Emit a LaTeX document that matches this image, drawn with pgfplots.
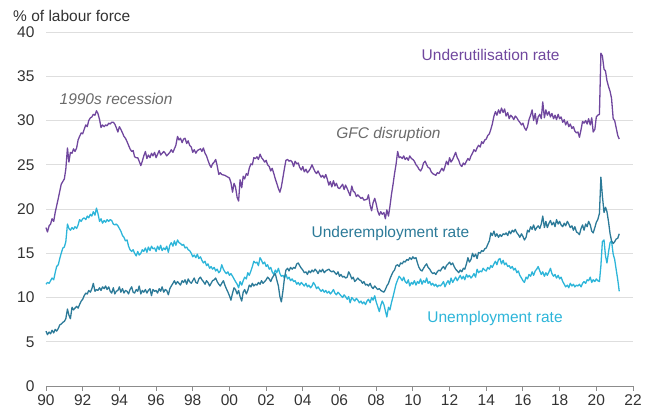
\documentclass[border=0pt]{standalone}
\usepackage{fontspec}
\setmainfont{Liberation Sans}
\usepackage{pgfplots}
\usepackage{pgfplotstable}
\pgfplotsset{compat=1.18}
\definecolor{cpurple}{HTML}{70479E}
\definecolor{cteal}{HTML}{2C7A98}
\definecolor{ccyan}{HTML}{2DB5D9}
\definecolor{ctext}{HTML}{333333}
\definecolor{cnote}{HTML}{6A6A6A}
\newcommand{\lbl}{\fontsize{15.5}{18}\selectfont}

\pgfplotstableread{
x y
1990.00 17.9
1990.08 17.4
1990.17 18.1
1990.25 18.3
1990.33 18.9
1990.42 18.6
1990.50 19.6
1990.67 21.2
1990.83 22.8
1991.00 23.4
1991.08 24.5
1991.17 26.9
1991.25 25.3
1991.33 26.4
1991.42 26.3
1991.50 26.8
1991.58 26.5
1991.67 26.9
1991.75 27.8
1991.83 28.2
1991.92 28.6
1992.00 28.5
1992.08 29.0
1992.17 29.5
1992.25 29.3
1992.33 30.0
1992.42 30.3
1992.50 30.4
1992.58 30.7
1992.67 30.6
1992.75 31.1
1992.83 30.8
1992.92 30.1
1993.00 29.2
1993.08 29.5
1993.17 29.3
1993.25 29.5
1993.33 29.4
1993.42 29.7
1993.50 29.6
1993.58 29.8
1993.67 29.8
1993.75 29.6
1993.83 29.2
1993.92 28.7
1994.00 29.3
1994.08 29.0
1994.17 28.6
1994.25 28.2
1994.33 28.0
1994.42 27.6
1994.50 27.2
1994.58 26.8
1994.67 26.5
1994.75 26.6
1994.83 25.9
1994.92 25.8
1995.00 25.8
1995.08 25.4
1995.17 24.9
1995.25 25.4
1995.33 26.0
1995.42 26.5
1995.50 25.7
1995.58 26.1
1995.67 25.8
1995.75 26.3
1995.83 26.0
1995.92 26.4
1996.00 25.8
1996.17 26.6
1996.25 26.1
1996.42 26.5
1996.50 26.3
1996.58 26.0
1996.75 26.4
1996.83 26.7
1996.92 26.4
1997.00 26.8
1997.08 27.2
1997.17 28.2
1997.25 27.8
1997.33 28.0
1997.42 27.5
1997.50 27.9
1997.58 28.0
1997.67 27.4
1997.75 27.7
1997.83 27.2
1997.92 27.0
1998.00 26.4
1998.08 26.7
1998.17 26.3
1998.25 26.6
1998.42 26.8
1998.50 26.5
1998.58 26.9
1998.67 26.3
1998.75 26.0
1998.83 25.5
1998.92 25.0
1999.00 24.7
1999.08 25.1
1999.17 25.3
1999.25 25.6
1999.33 24.9
1999.42 23.9
1999.50 24.1
1999.58 23.9
1999.75 23.8
1999.92 23.6
2000.00 23.5
2000.08 23.0
2000.17 21.9
2000.25 22.9
2000.33 22.5
2000.42 21.3
2000.50 20.9
2000.58 23.3
2000.67 22.4
2000.75 23.7
2000.83 23.4
2000.92 24.0
2001.00 23.8
2001.08 24.6
2001.17 25.1
2001.25 25.0
2001.33 25.8
2001.42 25.7
2001.50 25.9
2001.58 25.6
2001.67 26.2
2001.75 25.8
2001.83 25.6
2001.92 25.3
2002.00 25.5
2002.08 25.0
2002.17 24.8
2002.25 24.3
2002.33 24.6
2002.42 24.0
2002.50 23.4
2002.58 22.9
2002.67 22.3
2002.75 21.9
2002.83 22.5
2002.92 23.6
2003.00 24.6
2003.08 25.5
2003.17 25.6
2003.25 25.4
2003.33 25.5
2003.42 25.3
2003.50 24.8
2003.58 25.4
2003.67 25.1
2003.75 25.2
2003.83 24.7
2003.92 24.4
2004.00 24.8
2004.08 24.2
2004.17 24.5
2004.25 24.1
2004.33 24.3
2004.42 24.6
2004.50 25.0
2004.58 24.6
2004.67 24.2
2004.75 24.0
2004.83 24.3
2004.92 23.9
2005.00 23.6
2005.08 23.8
2005.17 23.5
2005.25 23.9
2005.33 23.4
2005.42 22.7
2005.50 23.1
2005.58 22.5
2005.67 23.2
2005.75 22.6
2005.83 22.9
2005.92 22.4
2006.00 22.3
2006.17 22.8
2006.25 22.2
2006.33 22.7
2006.42 22.3
2006.58 21.5
2006.67 22.6
2006.75 22.0
2006.83 21.9
2006.92 21.4
2007.00 21.6
2007.17 21.2
2007.25 21.3
2007.33 21.0
2007.50 21.1
2007.58 21.6
2007.67 20.4
2007.75 19.8
2007.83 20.7
2007.92 21.2
2008.00 20.6
2008.08 19.8
2008.17 19.3
2008.25 19.7
2008.33 19.4
2008.42 19.6
2008.50 18.9
2008.58 19.9
2008.67 19.2
2008.75 20.3
2008.83 21.6
2008.92 22.8
2009.00 24.0
2009.08 25.0
2009.17 26.5
2009.25 25.8
2009.33 25.9
2009.42 25.7
2009.50 26.0
2009.58 25.6
2009.67 25.8
2009.75 25.5
2009.83 26.0
2009.92 25.7
2010.00 25.6
2010.08 25.4
2010.17 25.0
2010.25 24.8
2010.33 24.5
2010.42 24.3
2010.50 24.6
2010.58 25.2
2010.67 25.4
2010.75 25.0
2010.83 24.7
2010.92 24.6
2011.00 24.2
2011.08 24.0
2011.17 23.9
2011.25 23.8
2011.33 24.1
2011.42 24.0
2011.50 24.3
2011.58 24.6
2011.67 24.3
2011.75 24.8
2011.83 25.4
2011.92 25.0
2012.00 25.8
2012.08 25.3
2012.17 25.6
2012.25 26.0
2012.33 26.4
2012.42 25.8
2012.50 25.5
2012.58 25.0
2012.67 24.8
2012.75 25.2
2012.83 25.0
2012.92 25.4
2013.00 25.7
2013.08 25.5
2013.17 26.0
2013.25 26.3
2013.33 26.7
2013.42 26.5
2013.50 26.9
2013.58 27.2
2013.67 27.0
2013.75 27.6
2013.83 27.4
2013.92 27.8
2014.00 27.9
2014.08 28.3
2014.17 28.5
2014.25 29.0
2014.33 29.6
2014.42 30.5
2014.50 31.0
2014.58 30.6
2014.67 31.2
2014.75 30.8
2014.83 31.4
2014.92 30.9
2015.00 31.3
2015.08 30.5
2015.17 30.9
2015.25 30.2
2015.33 30.6
2015.42 30.4
2015.50 30.1
2015.58 30.5
2015.67 30.3
2015.75 30.0
2015.83 29.8
2015.92 29.5
2016.00 29.7
2016.08 29.2
2016.17 28.9
2016.25 29.3
2016.33 30.1
2016.42 30.6
2016.50 31.2
2016.58 30.0
2016.67 30.8
2016.75 29.6
2016.83 30.4
2016.92 30.7
2017.00 30.2
2017.08 32.1
2017.17 30.3
2017.25 31.2
2017.33 30.6
2017.42 31.0
2017.50 30.4
2017.58 30.8
2017.67 30.2
2017.75 30.6
2017.83 30.1
2017.92 30.7
2018.00 30.2
2018.08 30.4
2018.17 29.8
2018.25 30.1
2018.33 29.5
2018.42 29.9
2018.50 29.3
2018.58 29.6
2018.67 29.1
2018.75 29.3
2018.83 28.8
2018.92 28.6
2019.00 28.7
2019.08 28.1
2019.17 29.0
2019.25 29.9
2019.33 29.7
2019.42 30.0
2019.50 29.6
2019.58 30.2
2019.67 29.5
2019.75 30.3
2019.83 28.7
2019.92 29.0
2020.00 30.4
2020.08 30.6
2020.17 30.7
2020.25 37.6
2020.33 37.3
2020.42 35.8
2020.50 35.6
2020.58 34.5
2020.67 33.8
2020.75 33.3
2020.83 32.5
2020.92 30.2
2021.00 30.0
2021.08 29.2
2021.17 28.3
2021.25 27.9
}\underutil

\pgfplotstableread{
x y
1990.00 6.2
1990.08 5.8
1990.17 6.1
1990.25 5.9
1990.33 6.3
1990.42 6.0
1990.50 6.4
1990.58 6.2
1990.67 6.5
1990.75 6.9
1990.83 7.0
1990.92 7.2
1991.00 7.3
1991.08 7.6
1991.17 8.7
1991.25 8.0
1991.33 7.6
1991.42 8.9
1991.50 8.6
1991.58 8.8
1991.67 9.0
1991.75 8.8
1991.83 9.2
1991.92 9.6
1992.00 9.8
1992.08 10.2
1992.17 10.5
1992.25 10.4
1992.33 10.8
1992.42 10.6
1992.50 11.0
1992.58 11.6
1992.67 10.7
1992.75 10.9
1992.83 10.8
1992.92 11.1
1993.00 10.8
1993.08 11.2
1993.17 11.0
1993.25 11.3
1993.33 10.9
1993.42 11.2
1993.50 10.7
1993.58 10.5
1993.67 11.1
1993.75 10.4
1993.83 10.7
1993.92 10.8
1994.00 11.2
1994.08 10.6
1994.17 11.0
1994.25 10.5
1994.33 10.8
1994.42 10.7
1994.50 10.4
1994.58 10.9
1994.67 11.2
1994.75 10.6
1994.83 10.5
1994.92 10.9
1995.00 10.7
1995.08 11.3
1995.17 10.4
1995.25 10.8
1995.33 10.6
1995.42 10.9
1995.50 10.5
1995.58 10.8
1995.67 11.0
1995.75 10.2
1995.83 10.9
1995.92 10.7
1996.00 10.8
1996.08 10.5
1996.17 11.0
1996.25 10.7
1996.33 11.2
1996.42 10.6
1996.50 10.9
1996.58 10.8
1996.67 10.3
1996.75 11.0
1996.83 11.3
1996.92 11.6
1997.00 11.9
1997.08 11.5
1997.17 11.8
1997.25 11.6
1997.33 11.4
1997.42 11.9
1997.50 11.7
1997.58 12.0
1997.67 11.5
1997.75 12.1
1997.83 11.8
1997.92 11.6
1998.00 11.9
1998.08 12.2
1998.17 11.7
1998.25 11.6
1998.33 12.1
1998.42 12.3
1998.50 12.0
1998.58 11.8
1998.67 11.5
1998.75 11.9
1998.83 11.7
1998.92 11.3
1999.00 11.6
1999.08 11.9
1999.17 12.0
1999.25 12.2
1999.33 11.8
1999.42 11.5
1999.50 11.3
1999.58 11.6
1999.67 11.9
1999.75 11.4
1999.83 11.0
1999.92 10.6
2000.00 10.2
2000.08 9.7
2000.17 10.5
2000.25 11.1
2000.33 10.9
2000.42 10.4
2000.50 10.8
2000.58 10.1
2000.67 9.6
2000.75 10.6
2000.83 10.9
2000.92 10.4
2001.00 10.8
2001.08 11.4
2001.17 11.2
2001.25 11.6
2001.33 11.3
2001.42 11.5
2001.50 11.4
2001.58 11.7
2001.67 11.5
2001.75 11.9
2001.83 11.6
2001.92 11.8
2002.00 12.0
2002.08 12.3
2002.17 12.1
2002.25 11.8
2002.33 12.2
2002.42 12.5
2002.50 12.7
2002.58 12.0
2002.67 11.3
2002.75 10.1
2002.83 9.5
2002.92 10.8
2003.00 12.2
2003.08 13.1
2003.17 13.3
2003.25 13.0
2003.33 13.4
2003.42 13.2
2003.50 13.4
2003.58 13.3
2003.67 13.8
2003.75 13.9
2003.83 13.6
2003.92 13.3
2004.00 13.1
2004.08 12.8
2004.17 12.9
2004.25 12.6
2004.33 13.0
2004.42 12.8
2004.50 13.1
2004.58 12.9
2004.67 13.2
2004.75 13.0
2004.83 12.7
2004.92 13.1
2005.00 12.9
2005.08 13.2
2005.17 12.8
2005.25 13.0
2005.33 13.1
2005.42 13.2
2005.50 13.0
2005.58 12.9
2005.67 13.0
2005.75 12.8
2005.83 12.6
2005.92 12.9
2006.00 12.4
2006.08 12.6
2006.17 12.3
2006.25 12.4
2006.33 12.2
2006.42 12.3
2006.50 12.9
2006.58 12.6
2006.67 12.1
2006.75 12.3
2006.83 11.8
2006.92 12.0
2007.00 12.2
2007.08 12.0
2007.17 11.9
2007.25 11.6
2007.33 11.8
2007.42 11.4
2007.50 11.5
2007.58 11.3
2007.67 11.6
2007.75 11.2
2007.83 11.0
2007.92 11.3
2008.00 11.1
2008.08 10.9
2008.17 11.0
2008.25 10.8
2008.33 10.7
2008.42 10.6
2008.50 10.9
2008.58 11.3
2008.67 11.6
2008.75 12.1
2008.83 12.5
2008.92 12.9
2009.00 13.1
2009.08 13.6
2009.17 13.7
2009.25 13.5
2009.33 13.9
2009.42 13.8
2009.50 14.1
2009.58 14.0
2009.67 14.3
2009.75 14.2
2009.83 14.5
2009.92 14.3
2010.00 14.6
2010.08 14.4
2010.17 14.5
2010.25 13.9
2010.33 13.4
2010.42 13.1
2010.50 13.0
2010.58 13.3
2010.67 13.6
2010.75 13.8
2010.83 13.4
2010.92 13.2
2011.00 12.9
2011.08 12.7
2011.17 12.8
2011.25 12.6
2011.33 12.9
2011.42 13.1
2011.50 13.0
2011.58 13.3
2011.67 13.5
2011.75 13.2
2011.83 13.6
2011.92 13.8
2012.00 14.0
2012.08 13.7
2012.17 13.9
2012.25 13.5
2012.33 13.2
2012.42 13.0
2012.50 12.8
2012.58 13.1
2012.67 12.9
2012.75 13.3
2012.83 13.2
2012.92 13.8
2013.00 14.5
2013.08 14.0
2013.17 14.3
2013.25 15.0
2013.33 14.6
2013.42 14.9
2013.50 14.4
2013.58 15.1
2013.67 15.0
2013.75 15.3
2013.83 15.2
2013.92 15.5
2014.00 15.6
2014.08 16.0
2014.17 16.4
2014.25 17.3
2014.33 17.0
2014.42 17.5
2014.50 16.9
2014.58 17.2
2014.67 16.8
2014.75 17.1
2014.83 16.9
2014.92 17.2
2015.00 17.1
2015.08 17.3
2015.17 17.0
2015.25 17.5
2015.33 17.2
2015.42 17.6
2015.50 17.4
2015.58 17.7
2015.67 17.3
2015.75 17.1
2015.83 16.8
2015.92 17.2
2016.00 16.9
2016.08 16.5
2016.17 16.8
2016.25 17.6
2016.33 17.4
2016.42 18.0
2016.50 17.7
2016.58 18.2
2016.67 17.6
2016.75 17.9
2016.83 18.1
2016.92 17.8
2017.00 18.3
2017.08 19.2
2017.17 17.9
2017.25 18.6
2017.33 17.9
2017.42 18.4
2017.50 18.7
2017.58 18.2
2017.67 18.5
2017.75 18.0
2017.83 18.8
2017.92 18.3
2018.00 18.6
2018.08 18.2
2018.17 18.0
2018.25 18.4
2018.33 18.1
2018.42 18.6
2018.50 18.3
2018.58 17.9
2018.67 18.1
2018.75 17.6
2018.83 18.0
2018.92 17.4
2019.00 17.3
2019.08 17.1
2019.17 17.8
2019.25 18.2
2019.33 17.6
2019.42 18.3
2019.50 18.0
2019.58 18.6
2019.67 18.2
2019.75 17.5
2019.83 17.3
2019.92 17.9
2020.00 18.5
2020.08 18.8
2020.17 19.5
2020.25 23.6
2020.33 21.5
2020.42 19.6
2020.50 20.2
2020.58 19.7
2020.67 18.5
2020.75 17.2
2020.83 16.4
2020.92 16.1
2021.00 16.3
2021.08 16.6
2021.17 16.7
2021.25 17.2
}\underemp

\pgfplotstableread{
x y
1990.00 11.5
1990.08 11.7
1990.17 11.6
1990.25 11.9
1990.33 12.2
1990.42 12.0
1990.50 12.8
1990.58 13.5
1990.67 13.7
1990.75 14.4
1990.83 15.0
1990.92 15.6
1991.00 15.7
1991.08 16.3
1991.17 18.3
1991.25 17.8
1991.33 17.6
1991.42 17.9
1991.50 17.7
1991.58 18.0
1991.67 17.8
1991.75 18.2
1991.83 18.8
1991.92 18.6
1992.00 18.9
1992.08 19.0
1992.17 18.8
1992.25 19.2
1992.33 19.0
1992.42 19.4
1992.50 19.2
1992.58 19.7
1992.67 19.3
1992.75 20.1
1992.83 19.5
1992.92 18.6
1993.00 18.9
1993.08 18.4
1993.17 18.7
1993.25 18.5
1993.33 18.8
1993.42 18.6
1993.50 18.8
1993.58 18.7
1993.67 18.3
1993.75 18.2
1993.83 18.3
1993.92 18.1
1994.00 17.8
1994.08 17.5
1994.17 17.0
1994.25 16.8
1994.33 16.4
1994.42 16.5
1994.50 15.8
1994.58 15.4
1994.67 15.2
1994.75 15.4
1994.83 15.0
1994.92 14.7
1995.00 15.2
1995.08 14.8
1995.17 15.0
1995.25 15.4
1995.33 15.2
1995.42 15.6
1995.50 15.1
1995.58 15.7
1995.67 15.3
1995.75 15.8
1995.83 15.5
1995.92 15.6
1996.00 15.2
1996.08 15.8
1996.17 15.4
1996.25 15.9
1996.33 15.3
1996.42 15.6
1996.50 15.4
1996.58 15.8
1996.67 15.1
1996.75 15.9
1996.83 16.2
1996.92 15.8
1997.00 16.4
1997.08 15.9
1997.17 16.5
1997.25 16.2
1997.33 16.1
1997.42 15.9
1997.50 16.0
1997.58 15.6
1997.67 15.7
1997.75 15.4
1997.83 15.3
1997.92 15.0
1998.00 14.6
1998.08 14.8
1998.17 14.5
1998.25 14.9
1998.33 14.4
1998.42 14.6
1998.50 14.2
1998.58 13.9
1998.67 14.1
1998.75 13.6
1998.83 13.8
1998.92 13.3
1999.00 13.5
1999.08 13.2
1999.17 13.4
1999.25 13.0
1999.33 13.2
1999.42 12.8
1999.50 13.0
1999.58 13.7
1999.67 13.2
1999.75 12.9
1999.83 12.7
1999.92 12.9
2000.00 12.5
2000.08 12.7
2000.17 12.4
2000.25 12.1
2000.33 11.8
2000.42 11.5
2000.50 11.1
2000.58 11.8
2000.67 11.4
2000.75 11.9
2000.83 12.3
2000.92 12.1
2001.00 12.8
2001.08 12.5
2001.17 13.0
2001.25 13.5
2001.33 14.1
2001.42 13.9
2001.50 14.0
2001.58 13.6
2001.67 14.5
2001.75 14.2
2001.83 13.8
2001.92 14.0
2002.00 13.5
2002.08 13.7
2002.17 13.2
2002.25 13.4
2002.33 12.9
2002.42 12.6
2002.50 13.1
2002.58 12.8
2002.67 13.3
2002.75 12.7
2002.83 12.4
2002.92 12.5
2003.00 12.2
2003.08 12.6
2003.17 12.1
2003.25 12.3
2003.33 11.9
2003.42 12.1
2003.50 11.8
2003.58 11.9
2003.67 11.5
2003.75 11.7
2003.83 11.4
2003.92 11.7
2004.00 11.5
2004.08 11.3
2004.17 11.6
2004.25 11.2
2004.33 11.4
2004.42 11.1
2004.50 11.3
2004.58 11.7
2004.67 11.4
2004.75 11.0
2004.83 11.2
2004.92 10.9
2005.00 10.7
2005.08 10.9
2005.17 10.6
2005.25 10.8
2005.33 10.5
2005.42 10.7
2005.50 10.4
2005.58 10.6
2005.67 10.9
2005.75 10.5
2005.83 10.3
2005.92 10.6
2006.00 10.4
2006.08 10.2
2006.17 10.0
2006.25 10.3
2006.33 10.1
2006.42 9.8
2006.50 10.1
2006.58 9.4
2006.67 10.0
2006.75 9.8
2006.83 9.6
2006.92 9.9
2007.00 9.7
2007.08 9.4
2007.17 9.6
2007.25 9.3
2007.33 9.5
2007.42 9.2
2007.50 9.6
2007.58 9.8
2007.67 9.4
2007.75 10.0
2007.83 9.7
2007.92 10.2
2008.00 9.5
2008.08 9.0
2008.17 8.4
2008.25 9.1
2008.33 9.6
2008.42 9.2
2008.50 8.5
2008.58 7.8
2008.67 8.9
2008.75 8.6
2008.83 9.4
2008.92 10.1
2009.00 10.8
2009.08 11.5
2009.17 12.0
2009.25 12.4
2009.33 12.2
2009.42 11.9
2009.50 12.3
2009.58 11.8
2009.67 11.6
2009.75 12.0
2009.83 11.3
2009.92 11.7
2010.00 11.5
2010.08 11.9
2010.17 11.4
2010.25 11.8
2010.33 11.6
2010.42 12.1
2010.50 11.5
2010.58 11.9
2010.67 11.7
2010.75 12.2
2010.83 11.6
2010.92 11.8
2011.00 11.4
2011.08 11.6
2011.17 11.3
2011.25 11.5
2011.33 11.2
2011.42 11.4
2011.50 11.3
2011.58 11.5
2011.67 11.8
2011.75 11.2
2011.83 11.6
2011.92 11.9
2012.00 11.5
2012.08 12.2
2012.17 11.7
2012.25 12.0
2012.33 12.3
2012.42 11.9
2012.50 12.2
2012.58 12.5
2012.67 12.1
2012.75 12.4
2012.83 12.0
2012.92 12.6
2013.00 12.3
2013.08 12.5
2013.17 12.2
2013.25 12.4
2013.33 12.7
2013.42 12.3
2013.50 13.2
2013.58 12.8
2013.67 13.0
2013.75 12.9
2013.83 13.3
2013.92 13.1
2014.00 13.0
2014.08 13.4
2014.17 13.2
2014.25 13.6
2014.33 13.4
2014.42 13.8
2014.50 14.1
2014.58 13.7
2014.67 14.3
2014.75 14.4
2014.83 13.8
2014.92 14.2
2015.00 13.7
2015.08 13.9
2015.17 13.5
2015.25 13.6
2015.33 13.3
2015.42 13.5
2015.50 13.1
2015.58 13.3
2015.67 12.8
2015.75 13.0
2015.83 12.5
2015.92 12.2
2016.00 11.9
2016.08 11.7
2016.17 12.3
2016.25 12.1
2016.33 12.6
2016.42 12.4
2016.50 12.9
2016.58 12.5
2016.67 13.0
2016.75 13.2
2016.83 13.5
2016.92 13.0
2017.00 12.6
2017.08 12.9
2017.17 12.4
2017.25 12.8
2017.33 12.5
2017.42 12.9
2017.50 13.3
2017.58 12.7
2017.67 12.4
2017.75 12.6
2017.83 12.2
2017.92 12.5
2018.00 12.1
2018.08 12.3
2018.17 11.8
2018.25 11.5
2018.33 11.2
2018.42 11.4
2018.50 11.1
2018.58 11.6
2018.67 11.3
2018.75 11.5
2018.83 11.2
2018.92 11.4
2019.00 11.3
2019.08 11.5
2019.17 11.2
2019.25 11.6
2019.33 11.8
2019.42 11.6
2019.50 12.0
2019.58 11.9
2019.67 12.3
2019.75 11.7
2019.83 12.0
2019.92 11.8
2020.00 12.1
2020.08 11.9
2020.17 11.8
2020.25 13.6
2020.33 16.3
2020.42 16.5
2020.50 14.7
2020.58 13.9
2020.67 15.2
2020.75 16.2
2020.83 16.4
2020.92 14.9
2021.00 14.3
2021.08 13.2
2021.17 12.0
2021.25 10.7
}\unemp

\begin{document}
\begin{tikzpicture}
\useasboundingbox (0pt,0pt) rectangle (656pt,412pt);
\node[anchor=west, inner sep=0pt, text=ctext, font=\lbl] at (13pt,396pt) {\% of labour force};
\begin{axis}[
  at={(46pt,26pt)}, anchor=south west,
  scale only axis, width=587pt, height=354pt,
  xmin=1990, xmax=2022, ymin=0, ymax=40,
  axis x line*=bottom, axis y line*=left,
  y axis line style={draw=none},
  x axis line style={draw=black!45, line width=0.9pt},
  xtick={1990,1992,...,2022},
  xticklabels={90,92,94,96,98,00,02,04,06,08,10,12,14,16,18,20,22},
  ytick={0,5,...,40},
  tick align=outside, major tick length=5pt,
  xtick style={draw=black!45, line width=0.9pt},
  ytick style={draw=none},
  ymajorgrids, grid style={draw=black!13, line width=0.7pt},
  /pgf/number format/assume math mode=true,
  tick label style={font=\lbl, text=ctext},
  yticklabel style={xshift=-3pt},
  xticklabel style={yshift=-0.5pt},
  clip=false,
]
\addplot[ccyan, line width=1.3pt, line join=round] table[x=x,y=y] {\unemp};
\addplot[cteal, line width=1.3pt, line join=round] table[x=x,y=y] {\underemp};
\addplot[cpurple, line width=1.3pt, line join=round] table[x=x,y=y] {\underutil};
\node[font=\itshape\lbl, text=cnote] at (axis cs:1993.82,32.4) {1990s recession};
\node[font=\itshape\lbl, text=cnote] at (axis cs:2008.67,28.4) {GFC disruption};
\node[font=\lbl, text=cpurple] at (axis cs:2014.24,37.4) {Underutilisation rate};
\node[font=\lbl, text=cteal] at (axis cs:2008.78,17.2) {Underemployment rate};
\node[font=\lbl, text=ccyan] at (axis cs:2014.48,7.6) {Unemployment rate};
\end{axis}
\end{tikzpicture}
\end{document}
